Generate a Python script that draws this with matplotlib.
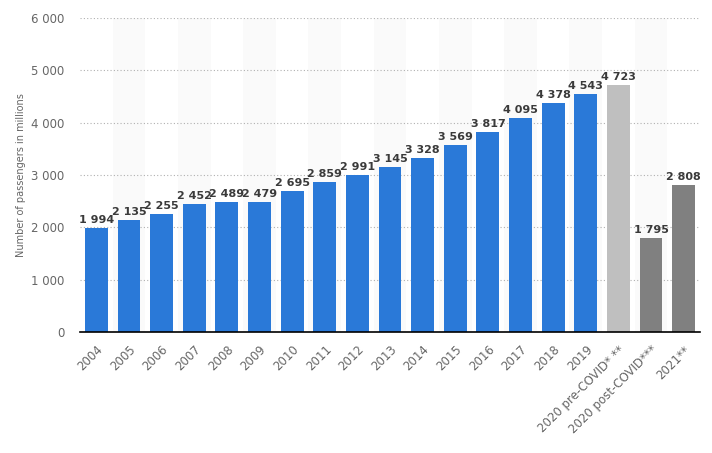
import matplotlib.pyplot as plt
import numpy as np

# Passenger numbers (millions)
categories = ['2004', '2005', '2006', '2007', '2008', '2009', '2010', '2011',
              '2012', '2013', '2014', '2015', '2016', '2017', '2018', '2019',
              '2020 pre-COVID* **', '2020 post-COVID***', '2021**']
values = [1994, 2135, 2255, 2452, 2489, 2479, 2695, 2859, 2991, 3145,
          3328, 3569, 3817, 4095, 4378, 4543, 4723, 1795, 2808]
bar_colors = ['#2a79d8'] * 16 + ['#bfbfbf', '#808080', '#808080']

y_ticks = [0, 1000, 2000, 3000, 4000, 5000, 6000]


def fmt(v):
    return f"{v:,}".replace(",", " ")


fig = plt.figure(figsize=(7.12, 4.53), dpi=100)
ax = fig.add_axes([80 / 712, 1 - 332 / 453, 620 / 712, 314 / 453])

x = np.arange(len(categories))

# alternating background bands
for i in x:
    if i % 2 == 1:
        ax.axvspan(i - 0.5, i + 0.5, color='#fafafa', zorder=0, lw=0)

ax.bar(x, values, width=0.7, color=bar_colors, zorder=3)

for xi, v in zip(x, values):
    ax.text(xi, v + 60, fmt(v), ha='center', va='bottom', fontsize=8,
            fontweight='bold', color='#3a3a3a', zorder=4)

ax.set_xlim(-0.5, len(categories) - 0.5)
ax.set_ylim(0, 6000)
ax.set_yticks(y_ticks)
ax.set_yticklabels([fmt(t) for t in y_ticks], fontsize=8.5, color='#666666')
ax.set_xticks(x)
ax.set_xticklabels(categories, rotation=45, ha='right', rotation_mode='anchor',
                   fontsize=8.5, color='#666666')
ax.tick_params(axis='both', length=0)
ax.tick_params(axis='y', pad=11)
ax.tick_params(axis='x', pad=8)

ax.grid(axis='y', linestyle=(0, (1, 2)), color='#b0b0b0', linewidth=0.8, zorder=1)
for s in ['top', 'right', 'left']:
    ax.spines[s].set_visible(False)
ax.spines['bottom'].set_color('#000000')
ax.spines['bottom'].set_linewidth(1.2)
ax.spines['bottom'].set_zorder(5)

ax.set_ylabel('Number of passengers in millions', fontsize=7, color='#666666',
              labelpad=4)

fig.savefig('out.png', dpi=100)
